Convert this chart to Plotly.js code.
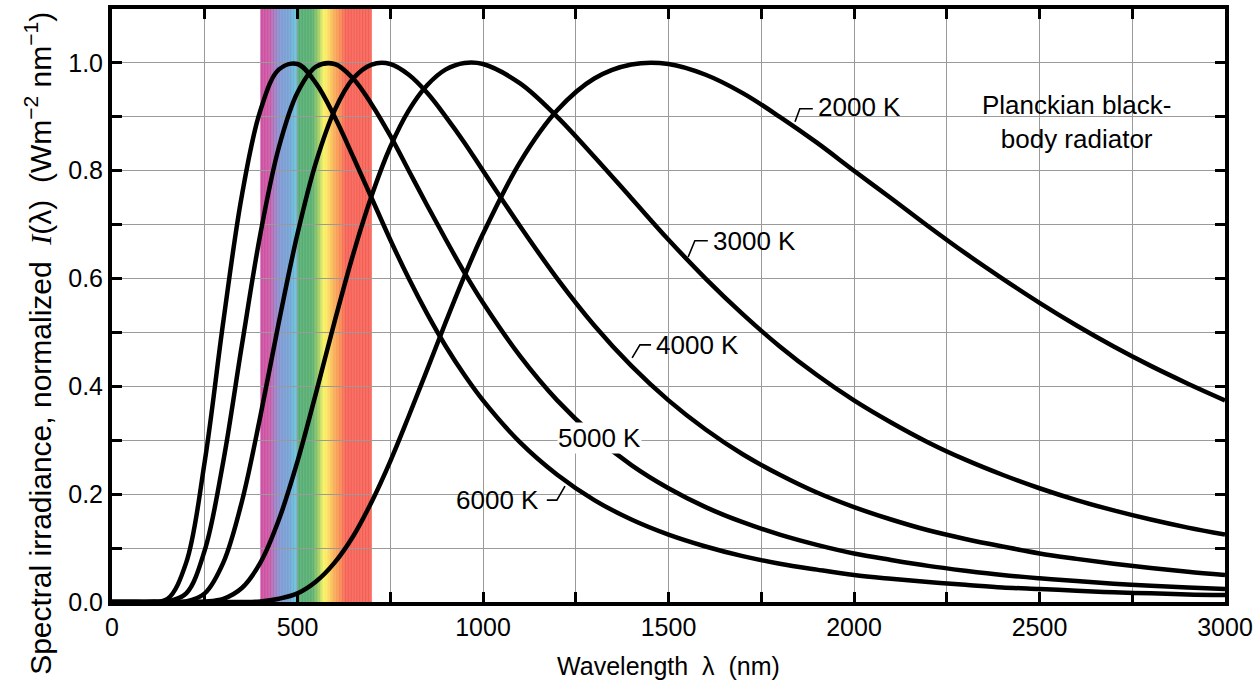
<!DOCTYPE html>
<html>
<head>
<meta charset="utf-8">
<script src="https://cdn.plot.ly/plotly-3.0.1.min.js"></script>
<style>
  html, body { margin: 0; padding: 0; background: #fff; }
  #chart { width: 1260px; height: 691px; }
</style>
</head>
<body>
<div id="chart"></div>
<script>
const wavelengths = [0, 50, 100, 150, 200, 250, 300, 350, 400, 450, 500, 550, 600, 650, 700, 750, 800, 850, 900, 950,
  1000, 1100, 1200, 1300, 1400, 1500, 1600, 1700, 1800, 1900, 2000, 2100, 2200, 2300, 2400, 2500, 2600, 2700, 2800, 2900, 3000];

// Normalized spectral irradiance
const t6000 = [0, 0, 0, 0.006, 0.073, 0.261, 0.520, 0.754, 0.912, 0.988, 0.998, 0.962, 0.900, 0.826, 0.749, 0.672, 0.600, 0.534, 0.474, 0.421,
  0.374, 0.296, 0.236, 0.189, 0.153, 0.125, 0.103, 0.085, 0.071, 0.060, 0.050, 0.043, 0.037, 0.032, 0.027, 0.024, 0.021, 0.018, 0.016, 0.014, 0.013];
const t5000 = [0, 0, 0, 0.001, 0.016, 0.096, 0.261, 0.476, 0.683, 0.844, 0.945, 0.993, 0.998, 0.971, 0.923, 0.865, 0.800, 0.735, 0.672, 0.611,
  0.555, 0.456, 0.374, 0.308, 0.254, 0.211, 0.176, 0.148, 0.125, 0.106, 0.090, 0.078, 0.067, 0.058, 0.050, 0.044, 0.039, 0.034, 0.030, 0.027, 0.024];
const t4000 = [0, 0, 0, 0, 0.001, 0.016, 0.073, 0.186, 0.345, 0.520, 0.683, 0.816, 0.912, 0.971, 0.997, 0.998, 0.978, 0.944, 0.900, 0.852,
  0.800, 0.697, 0.600, 0.513, 0.438, 0.374, 0.320, 0.274, 0.236, 0.203, 0.176, 0.153, 0.133, 0.117, 0.103, 0.090, 0.080, 0.071, 0.063, 0.056, 0.050];
const t3000 = [0, 0, 0, 0, 0, 0.001, 0.006, 0.026, 0.073, 0.153, 0.261, 0.388, 0.520, 0.645, 0.754, 0.844, 0.912, 0.959, 0.988, 1.000,
  0.998, 0.962, 0.900, 0.826, 0.749, 0.672, 0.600, 0.534, 0.474, 0.421, 0.374, 0.333, 0.296, 0.264, 0.236, 0.211, 0.189, 0.170, 0.153, 0.138, 0.125];
const t2000 = [0, 0, 0, 0, 0, 0, 0, 0, 0.001, 0.006, 0.016, 0.038, 0.073, 0.122, 0.186, 0.261, 0.345, 0.432, 0.520, 0.605,
  0.683, 0.816, 0.912, 0.971, 0.997, 0.998, 0.978, 0.944, 0.900, 0.852, 0.800, 0.749, 0.697, 0.647, 0.600, 0.555, 0.513, 0.474, 0.438, 0.405, 0.374];

const seriesNames = ['6000 K', '5000 K', '4000 K', '3000 K', '2000 K'];
const seriesValues = [t6000, t5000, t4000, t3000, t2000];

// Visible spectrum band: colour stops (nm, colour)
const spectrumWl = [400, 422, 440, 456, 478, 490, 499, 501, 540, 556, 570, 580, 596, 614, 630, 700];
const spectrumColors = ['#c8449c', '#cc4c9e', '#9b78c0', '#7596d0', '#6f9cd2', '#62b6d6', '#5fc0d2', '#4caa6c',
  '#50aa68', '#96c85c', '#f6f25c', '#fbe45a', '#f8b04e', '#f7884c', '#f55a4e', '#f55a4e'];

// Curve labels: text, position, optional leader line points
const labelTexts = ['2000 K', '3000 K', '4000 K', '5000 K', '6000 K'];
const labelX = [2016, 1733, 1577, 1314, 1038];
const labelY = [0.918, 0.670, 0.477, 0.304, 0.189];
const leaderX = [[1841, 1854, 1889], [1553, 1571, 1606], [1402, 1423, 1453], null, [1172, 1199, 1221]];
const leaderY = [[0.891, 0.915, 0.915], [0.640, 0.670, 0.670], [0.453, 0.477, 0.477], null, [0.189, 0.189, 0.215]];

const FONT = 'Liberation Sans, Arial, Helvetica, sans-serif';

function hexToRgb(h) { return [1, 3, 5].map(i => parseInt(h.substr(i, 2), 16)); }
function colorAt(wl) {
  let i = 0;
  while (i < spectrumWl.length - 2 && wl > spectrumWl[i + 1]) i++;
  const a = hexToRgb(spectrumColors[i]), b = hexToRgb(spectrumColors[i + 1]);
  const t = Math.min(1, Math.max(0, (wl - spectrumWl[i]) / (spectrumWl[i + 1] - spectrumWl[i])));
  const c = a.map((v, k) => Math.round(v + (b[k] - v) * t));
  return 'rgb(' + c.join(',') + ')';
}

const shapes = [];
const step = 2;
for (let wl = spectrumWl[0]; wl < spectrumWl[spectrumWl.length - 1]; wl += step) {
  shapes.push({
    type: 'rect', layer: 'below', xref: 'x', yref: 'paper',
    x0: wl, x1: Math.min(wl + step + 0.6, spectrumWl[spectrumWl.length - 1]), y0: 0, y1: 1,
    fillcolor: colorAt(wl + step / 2), line: { width: 0 }
  });
}
leaderX.forEach((lx, i) => {
  if (!lx) return;
  const ly = leaderY[i];
  let p = 'M' + lx[0] + ',' + ly[0];
  for (let k = 1; k < lx.length; k++) p += ' L' + lx[k] + ',' + ly[k];
  shapes.push({ type: 'path', xref: 'x', yref: 'y', path: p, line: { color: '#000', width: 1.6 } });
});

const traces = seriesValues.map((vals, i) => ({
  type: 'scatter', mode: 'lines', name: seriesNames[i],
  x: wavelengths, y: vals,
  line: { color: '#000', width: 4.5, shape: 'spline', smoothing: 1 },
  hoverinfo: 'x+y+name'
}));

const annotations = labelTexts.map((t, i) => ({
  x: labelX[i], y: labelY[i], xref: 'x', yref: 'y', text: t, showarrow: false,
  font: { family: FONT, size: 26, color: '#000' },
  bgcolor: t === '5000 K' ? '#fff' : 'rgba(0,0,0,0)', borderpad: 0
}));
annotations.push({
  x: 2601, y: 0.89, xref: 'x', yref: 'y', showarrow: false,
  text: 'Planckian black-<br>body radiator',
  font: { family: FONT, size: 26, color: '#000' }, align: 'center'
});
// Y-axis title (as an annotation so it can use the full page height like the reference)
annotations.push({
  xref: 'paper', yref: 'paper', x: -0.0665, y: 0.437, xanchor: 'center', yanchor: 'middle',
  textangle: -90, showarrow: false,
  text: 'Spectral irradiance, normalized  <span style="font-family:Liberation Serif;font-style:italic">I</span>(λ)  (Wm<sup>−2</sup> nm<sup>−1</sup>)',
  font: { family: FONT, size: 30, color: '#000' }
});

const axisCommon = {
  showline: true, linecolor: '#000', linewidth: 4, mirror: 'ticks',
  ticks: 'inside', ticklen: 10, tickwidth: 2.5, tickcolor: '#000',
  showgrid: true, gridcolor: '#9a9a9a', gridwidth: 1, zeroline: false,
  tickfont: { family: FONT, size: 25, color: '#000' }
};

const layout = {
  width: 1260, height: 691,
  margin: { l: 112, r: 35, t: 9, b: 89 },
  paper_bgcolor: '#fff', plot_bgcolor: '#fff',
  showlegend: false,
  xaxis: Object.assign({}, axisCommon, {
    range: [0, 3000], dtick: 500, tick0: 0,
    minor: { dtick: 250, ticks: 'inside', ticklen: 10, tickwidth: 2.5, tickcolor: '#000', showgrid: true, gridcolor: '#9a9a9a', gridwidth: 1 },
    title: { text: 'Wavelength  λ  (nm)', font: { family: FONT, size: 25, color: '#000' }, standoff: 18 }
  }),
  yaxis: Object.assign({}, axisCommon, {
    range: [0, 1.1], dtick: 0.2, tick0: 0, tickformat: '.1f',
    minor: { dtick: 0.1, ticks: 'inside', ticklen: 10, tickwidth: 2.5, tickcolor: '#000', showgrid: true, gridcolor: '#9a9a9a', gridwidth: 1 }
  }),
  shapes: shapes,
  annotations: annotations
};

Plotly.newPlot('chart', traces, layout, { displayModeBar: false, responsive: false });
</script>
</body>
</html>
